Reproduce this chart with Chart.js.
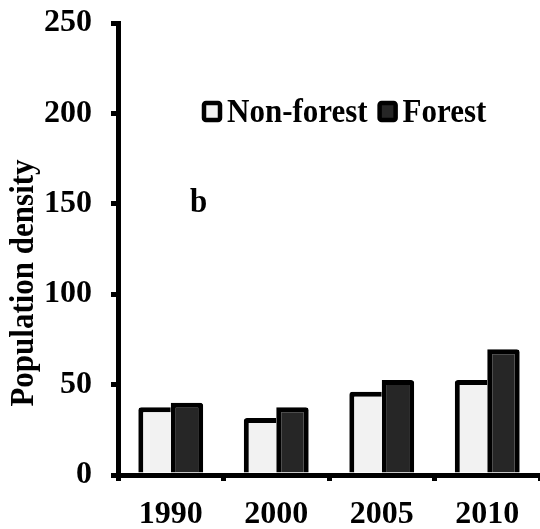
<!DOCTYPE html>
<html><head><meta charset="utf-8">
<script src="https://cdn.jsdelivr.net/npm/chart.js@4"></script>
<style>html,body{margin:0;padding:0;background:#fff;}canvas{display:block;}</style>
</head><body>
<canvas id="c" width="540" height="529"></canvas>
<script>
const categories = ['1990', '2000', '2005', '2010'];
const nonForest = [37.5, 31.5, 46, 52.5];
const forest = [40, 37.5, 52.5, 69.5];
const seriesNames = ['Non-forest', 'Forest'];
const yTicks = [0, 50, 100, 150, 200, 250];
const yTitle = 'Population density';
const panelLetter = 'b';

const FONT = "'Liberation Serif','Times New Roman',serif";
const fillColors = ['#f2f2f2', '#262626'];

const overlay = {
  id: 'overlay',
  afterDraw(chart) {
    const ctx = chart.ctx;
    ctx.save();
    ctx.fillStyle = '#000';
    // y-axis title
    ctx.save();
    ctx.font = 'bold 31px ' + FONT;
    ctx.translate(33, 283);
    ctx.rotate(-Math.PI / 2);
    ctx.scale(1, 1.08);
    ctx.textAlign = 'center';
    ctx.textBaseline = 'alphabetic';
    ctx.fillText(yTitle, 0, 0);
    ctx.restore();
    // panel letter
    ctx.save();
    ctx.font = 'bold 31px ' + FONT;
    ctx.textAlign = 'left';
    ctx.textBaseline = 'alphabetic';
    ctx.translate(190, 212);
    ctx.scale(1, 1.08);
    ctx.fillText(panelLetter, 0, 0);
    ctx.restore();
    // legend
    ctx.font = 'bold 31px ' + FONT;
    let x = 202;
    const top = 101, size = 20, base = 122;
    chart.data.datasets.forEach((ds, i) => {
      ctx.beginPath();
      if (ctx.roundRect) ctx.roundRect(x + 2, top + 2, size - 4, size - 4 + 1, 2);
      else ctx.rect(x + 2, top + 2, size - 4, size - 4 + 1);
      ctx.fillStyle = ds.backgroundColor;
      ctx.fill();
      ctx.lineWidth = 4.5;
      ctx.strokeStyle = '#000';
      ctx.stroke();
      ctx.fillStyle = '#000';
      const tx = x + size + 5;
      ctx.save();
      ctx.translate(tx, base);
      ctx.scale(1, 1.08);
      ctx.fillText(ds.label, 0, 0);
      ctx.restore();
      x = tx + ctx.measureText(ds.label).width + 10;
    });
    ctx.restore();
  }
};

new Chart(document.getElementById('c').getContext('2d'), {
  type: 'bar',
  data: {
    labels: categories,
    datasets: [
      {
        label: seriesNames[0], data: nonForest,
        backgroundColor: fillColors[0], borderColor: '#000',
        borderWidth: { top: 5, left: 5, right: 0, bottom: 0 },
        borderRadius: { topLeft: 3, topRight: 0, bottomLeft: 0, bottomRight: 0 },
        categoryPercentage: 0.615, barPercentage: 1
      },
      {
        label: seriesNames[1], data: forest,
        backgroundColor: fillColors[1], borderColor: '#000',
        borderWidth: { top: 5, left: 5, right: 5, bottom: 0 },
        borderRadius: { topLeft: 0, topRight: 3, bottomLeft: 0, bottomRight: 0 },
        categoryPercentage: 0.615, barPercentage: 1
      }
    ]
  },
  options: {
    responsive: false,
    animation: false,
    devicePixelRatio: 1,
    layout: { padding: { top: 23, right: 0, bottom: 0, left: 0 } },
    plugins: { legend: { display: false }, tooltip: { enabled: false } },
    scales: {
      x: {
        z: 1,
        grid: { display: true, drawOnChartArea: false, offset: true, tickLength: 6, lineWidth: 5, color: '#000' },
        border: { display: true, color: '#000', width: 5 },
        ticks: { color: '#000', padding: 15, maxRotation: 0, font: { family: FONT, size: 32, weight: 'bold' } },
        afterFit(s) { s.height = 54; s.paddingLeft = 0; s.paddingRight = 0; }
      },
      y: {
        z: 1,
        min: 0, max: 250,
        afterBuildTicks(s) { s.ticks = yTicks.map(v => ({ value: v })); },
        grid: { drawOnChartArea: false, tickLength: 7, lineWidth: 5, color: '#000' },
        border: { display: true, color: '#000', width: 5 },
        ticks: { color: '#000', padding: 19, font: { family: FONT, size: 32, weight: 'bold' } },
        afterFit(s) { s.width = 118; s.paddingTop = 0; s.paddingBottom = 0; }
      }
    }
  },
  plugins: [overlay]
});
</script>
</body></html>
